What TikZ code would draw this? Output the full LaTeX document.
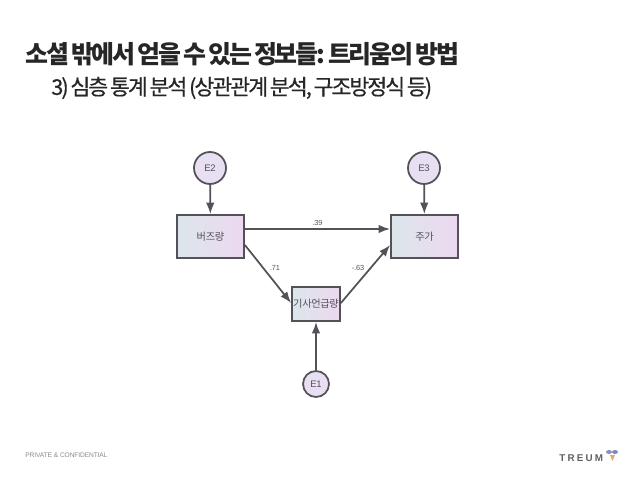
\documentclass[tikz,border=0pt]{standalone}
\usepackage{fontspec}
\usepackage{xcolor}
\usetikzlibrary{arrows.meta}
\newfontfamily\krfont[LetterSpace=-3]{Noto Sans CJK KR}
\newfontfamily\titlefont[LetterSpace=-9,WordSpace=0.6]{Noto Sans CJK KR}
\newfontfamily\subfont[LetterSpace=-9,WordSpace=0.6,FakeBold=0.5]{Noto Sans CJK KR}
\newfontfamily\latinfont[LetterSpace=-2]{Liberation Sans}
\newfontfamily\logofont[LetterSpace=22]{Liberation Sans}
\definecolor{boxline}{HTML}{525258}
\definecolor{boxleft}{HTML}{DCE6EA}
\definecolor{boxright}{HTML}{EDD8F0}
\definecolor{errfill}{HTML}{E8DFF2}
\tikzset{
  varbox/.style={draw=boxline, line width=1pt, rectangle, inner sep=0pt, left color=boxleft, right color=boxright, text=boxline, font=\krfont\fontsize{5.8pt}{7pt}\selectfont},
  errnode/.style={draw=boxline, line width=1pt, circle, inner sep=0pt, fill=errfill, text=boxline, font=\latinfont\fontsize{5.4pt}{6pt}\selectfont},
  path/.style={draw=boxline, line width=1pt, -{Latex[length=6.5pt,width=4.8pt]}},
  coef/.style={inner sep=0pt, text=boxline, font=\latinfont\fontsize{4.2pt}{5pt}\selectfont}
}
\begin{document}
\begin{tikzpicture}[x=0.02cm,y=-0.02cm]
\useasboundingbox (0,0) rectangle (638,479);

\node[anchor=west, inner sep=0pt, font=\titlefont\bfseries\fontsize{14.2pt}{18pt}\selectfont, text=black!85] (title) at (25,54) {소셜 밖에서 얻을 수 있는 정보들: 트리움의 방법};
\node[anchor=west, inner sep=0pt, font=\subfont\fontsize{12.3pt}{16pt}\selectfont, text=black!85] (subtitle) at (51,88) {3) 심층 통계 분석 (상관관계 분석, 구조방정식 등)};

\node[varbox, minimum width=1.34cm, minimum height=0.86cm] (buzz) at (210.5,236.5) {버즈량};
\node[varbox, minimum width=1.34cm, minimum height=0.86cm] (stock) at (424.5,236.5) {주가};
\node[varbox, minimum width=0.96cm, minimum height=0.68cm] (news) at (316,304) {기사언급량};

\node[errnode, minimum size=0.64cm] (E2) at (210,168) {E2};
\node[errnode, minimum size=0.64cm] (E3) at (424,168) {E3};
\node[errnode, minimum size=0.52cm] (E1) at (316,384) {E1};

\draw[path] (E2) -- (buzz);
\draw[path] (E3) -- (stock);
\draw[path] (E1) -- (news);
\draw[path] ([yshift=0.15cm]buzz.east) -- node[coef, pos=0.5, above=1.5pt] (c39) {.39} ([yshift=0.15cm]stock.west);
\draw[path] ([yshift=-0.17cm]buzz.east) -- ([yshift=0.02cm]news.west);
\draw[path] ([yshift=0.02cm]news.east) -- ([yshift=-0.17cm]stock.west);
\node[coef] (c71) at (275,268) {.71};
\node[coef] (c63) at (358,268) {-.63};

\node[anchor=west, inner sep=0pt, text=black!45, font=\latinfont\fontsize{3.8pt}{5pt}\selectfont] (footer) at (25,455) {PRIVATE \& CONFIDENTIAL};
\node[anchor=west, inner sep=0pt, text=black!62, font=\logofont\bfseries\fontsize{5.6pt}{7pt}\selectfont] (logo) at (559,458) {TREUM};
\fill[orange!55!brown!70] (610,455) -- (615,455) -- (612.5,461) -- cycle;
\fill[blue!25!gray!70] (609,452) ellipse (3 and 2);
\fill[blue!35!gray!70] (615,452) ellipse (3 and 2);
\end{tikzpicture}
\end{document}
